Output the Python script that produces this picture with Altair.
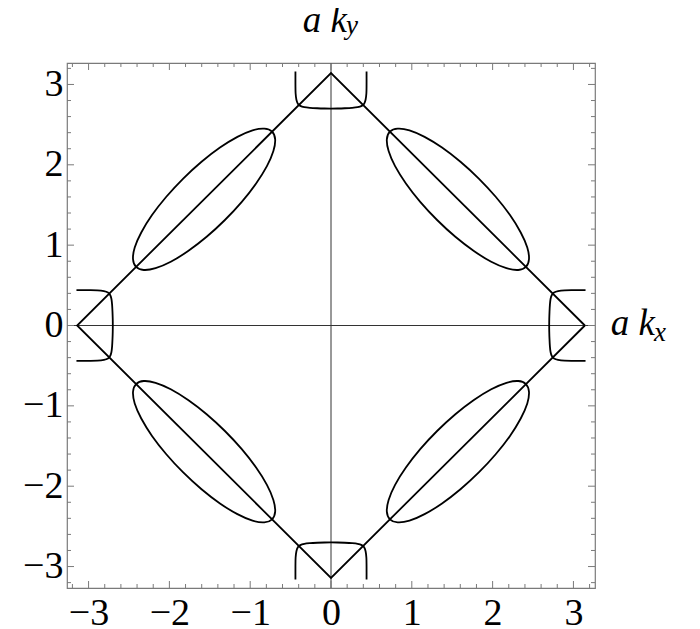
import altair as alt
import pandas as pd

FONT = "Liberation Serif"
FRAME = "#7a7a7a"

DOMAIN_X = [-3.267, 3.267]
DOMAIN_Y = [-3.267, 3.267]

MAJOR_TICKS = [-3, -2, -1, 0, 1, 2, 3]
MINOR_TICKS = [-3.2, -2.8, -2.6, -2.4, -2.2, -1.8, -1.6, -1.4, -1.2, -0.8, -0.6, -0.4, -0.2,
               0.2, 0.4, 0.6, 0.8, 1.2, 1.4, 1.6, 1.8, 2.2, 2.4, 2.6, 2.8, 3.2]

# diamond |x|+|y| = pi
DIAMOND_X = [3.1416, 0.0, -3.1416, 0.0, 3.1416]
DIAMOND_Y = [0.0, 3.1416, 0.0, -3.1416, 0.0]

# lenses (closed curves)
LENS_UR_X = [2.412, 2.450, 2.429, 2.348, 2.215, 2.038, 1.829, 1.602, 1.374, 1.158, 0.971, 0.825,
             0.729, 0.691, 0.713, 0.793, 0.927, 1.104, 1.313, 1.539, 1.768, 1.983, 2.171, 2.317]
LENS_UR_Y = [0.729, 0.825, 0.971, 1.158, 1.374, 1.602, 1.829, 2.038, 2.215, 2.348, 2.429, 2.450,
             2.412, 2.317, 2.171, 1.983, 1.768, 1.539, 1.313, 1.104, 0.927, 0.793, 0.713, 0.691]
LENS_UL_X = [-2.412, -2.450, -2.429, -2.348, -2.215, -2.038, -1.829, -1.602, -1.374, -1.158, -0.971, -0.825,
             -0.729, -0.691, -0.713, -0.793, -0.927, -1.104, -1.313, -1.539, -1.768, -1.983, -2.171, -2.317]
LENS_UL_Y = [0.729, 0.825, 0.971, 1.158, 1.374, 1.602, 1.829, 2.038, 2.215, 2.348, 2.429, 2.450,
             2.412, 2.317, 2.171, 1.983, 1.768, 1.539, 1.313, 1.104, 0.927, 0.793, 0.713, 0.691]
LENS_LL_X = [-2.412, -2.450, -2.429, -2.348, -2.215, -2.038, -1.829, -1.602, -1.374, -1.158, -0.971, -0.825,
             -0.729, -0.691, -0.713, -0.793, -0.927, -1.104, -1.313, -1.539, -1.768, -1.983, -2.171, -2.317]
LENS_LL_Y = [-0.729, -0.825, -0.971, -1.158, -1.374, -1.602, -1.829, -2.038, -2.215, -2.348, -2.429, -2.450,
             -2.412, -2.317, -2.171, -1.983, -1.768, -1.539, -1.313, -1.104, -0.927, -0.793, -0.713, -0.691]
LENS_LR_X = [2.412, 2.450, 2.429, 2.348, 2.215, 2.038, 1.829, 1.602, 1.374, 1.158, 0.971, 0.825,
             0.729, 0.691, 0.713, 0.793, 0.927, 1.104, 1.313, 1.539, 1.768, 1.983, 2.171, 2.317]
LENS_LR_Y = [-0.729, -0.825, -0.971, -1.158, -1.374, -1.602, -1.829, -2.038, -2.215, -2.348, -2.429, -2.450,
             -2.412, -2.317, -2.171, -1.983, -1.768, -1.539, -1.313, -1.104, -0.927, -0.793, -0.713, -0.691]

# brackets near the diamond corners (open curves)
BR_R_X = [3.15, 3.00, 2.89, 2.81, 2.76, 2.733, 2.717, 2.709, 2.704, 2.701, 2.700,
          2.701, 2.704, 2.709, 2.717, 2.733, 2.76, 2.81, 2.89, 3.00, 3.15]
BR_R_Y = [0.44, 0.44, 0.438, 0.428, 0.41, 0.38, 0.33, 0.26, 0.17, 0.08, 0.0,
          -0.08, -0.17, -0.26, -0.33, -0.38, -0.41, -0.428, -0.438, -0.44, -0.44]
BR_L_X = [-3.15, -3.00, -2.89, -2.81, -2.76, -2.733, -2.717, -2.709, -2.704, -2.701, -2.700,
          -2.701, -2.704, -2.709, -2.717, -2.733, -2.76, -2.81, -2.89, -3.00, -3.15]
BR_L_Y = [0.44, 0.44, 0.438, 0.428, 0.41, 0.38, 0.33, 0.26, 0.17, 0.08, 0.0,
          -0.08, -0.17, -0.26, -0.33, -0.38, -0.41, -0.428, -0.438, -0.44, -0.44]
BR_T_X = [0.44, 0.44, 0.438, 0.428, 0.41, 0.38, 0.33, 0.26, 0.17, 0.08, 0.0,
          -0.08, -0.17, -0.26, -0.33, -0.38, -0.41, -0.428, -0.438, -0.44, -0.44]
BR_T_Y = [3.16, 3.00, 2.89, 2.81, 2.76, 2.733, 2.717, 2.709, 2.704, 2.701, 2.700,
          2.701, 2.704, 2.709, 2.717, 2.733, 2.76, 2.81, 2.89, 3.00, 3.16]
BR_B_X = [0.44, 0.44, 0.438, 0.428, 0.41, 0.38, 0.33, 0.26, 0.17, 0.08, 0.0,
          -0.08, -0.17, -0.26, -0.33, -0.38, -0.41, -0.428, -0.438, -0.44, -0.44]
BR_B_Y = [-3.16, -3.00, -2.89, -2.81, -2.76, -2.733, -2.717, -2.709, -2.704, -2.701, -2.700,
          -2.701, -2.704, -2.709, -2.717, -2.733, -2.76, -2.81, -2.89, -3.00, -3.16]

W, H = 528, 525


def curve_frame(named):
    rows = []
    for name, xs_, ys_ in named:
        for i, (a, b) in enumerate(zip(xs_, ys_)):
            rows.append({"curve": name, "i": i, "x": a, "y": b})
    return pd.DataFrame(rows)


diamond_df = curve_frame([("diamond", DIAMOND_X, DIAMOND_Y)])
lens_df = curve_frame([("ur", LENS_UR_X, LENS_UR_Y), ("ul", LENS_UL_X, LENS_UL_Y),
                       ("ll", LENS_LL_X, LENS_LL_Y), ("lr", LENS_LR_X, LENS_LR_Y)])
bracket_df = curve_frame([("r", BR_R_X, BR_R_Y), ("l", BR_L_X, BR_L_Y),
                          ("t", BR_T_X, BR_T_Y), ("b", BR_B_X, BR_B_Y)])
major_df = pd.DataFrame({"v": MAJOR_TICKS})
minor_df = pd.DataFrame({"v": MINOR_TICKS})
zero_df = pd.DataFrame({"v": [0.0]})

xs = alt.Scale(domain=DOMAIN_X, nice=False, zero=False)
ys = alt.Scale(domain=DOMAIN_Y, nice=False, zero=False)


def xaxis():
    return alt.Axis(values=MAJOR_TICKS, format="d", labelFont=FONT, labelFontSize=38,
                    labelColor="black", labelPadding=6, labelFlush=False, labelOverlap=False,
                    ticks=False, tickSize=0, domain=False, grid=False, title="")


def yaxis():
    return alt.Axis(values=MAJOR_TICKS, format="d", labelFont=FONT, labelFontSize=38,
                    labelColor="black", labelPadding=4, labelFlush=False, labelOverlap=False,
                    ticks=False, tickSize=0, domain=False, grid=False, title="")


def X(field):
    return alt.X(field, scale=xs, axis=xaxis(), title="")


def Y(field):
    return alt.Y(field, scale=ys, axis=yaxis(), title="")


x_zero = alt.Chart(zero_df).mark_rule(color="#333333", strokeWidth=1).encode(x=X("v:Q"))
y_zero = alt.Chart(zero_df).mark_rule(color="#333333", strokeWidth=1).encode(y=Y("v:Q"))

diamond = alt.Chart(diamond_df).mark_line(color="black", strokeWidth=1.8).encode(
    x=X("x:Q"), y=Y("y:Q"), order="i:Q")

lenses = alt.Chart(lens_df).mark_line(color="black", strokeWidth=1.8,
                                      interpolate="cardinal-closed").encode(
    x=X("x:Q"), y=Y("y:Q"), detail="curve:N", order="i:Q")

brackets = alt.Chart(bracket_df).mark_line(color="black", strokeWidth=1.8,
                                           interpolate="cardinal").encode(
    x=X("x:Q"), y=Y("y:Q"), detail="curve:N", order="i:Q")


def xticks(df, length):
    bottom = alt.Chart(df).mark_rule(color=FRAME, strokeWidth=1).encode(
        x=X("v:Q"), y=alt.value(H), y2=alt.value(H - length))
    top = alt.Chart(df).mark_rule(color=FRAME, strokeWidth=1).encode(
        x=X("v:Q"), y=alt.value(0), y2=alt.value(length))
    return [bottom, top]


def yticks(df, length):
    left = alt.Chart(df).mark_rule(color=FRAME, strokeWidth=1).encode(
        y=Y("v:Q"), x=alt.value(0), x2=alt.value(length))
    right = alt.Chart(df).mark_rule(color=FRAME, strokeWidth=1).encode(
        y=Y("v:Q"), x=alt.value(W), x2=alt.value(W - length))
    return [left, right]


ticks = xticks(major_df, 7) + xticks(minor_df, 4) + yticks(major_df, 7) + yticks(minor_df, 4)

lab_df = pd.DataFrame({"main": ["a k"], "suby": ["y"], "subx": ["x"]})
top_main = alt.Chart(lab_df).mark_text(font=FONT, fontStyle="italic", fontSize=37,
                                       align="right", baseline="alphabetic", color="black").encode(
    text="main:N", x=alt.value(280), y=alt.value(-31))
top_sub = alt.Chart(lab_df).mark_text(font=FONT, fontStyle="italic", fontSize=27,
                                      align="left", baseline="alphabetic", color="black").encode(
    text="suby:N", x=alt.value(279), y=alt.value(-29))
right_main = alt.Chart(lab_df).mark_text(font=FONT, fontStyle="italic", fontSize=37,
                                         align="right", baseline="alphabetic", color="black").encode(
    text="main:N", x=alt.value(588), y=alt.value(272))
right_sub = alt.Chart(lab_df).mark_text(font=FONT, fontStyle="italic", fontSize=27,
                                        align="left", baseline="alphabetic", color="black").encode(
    text="subx:N", x=alt.value(587), y=alt.value(278))

chart = alt.layer(
    x_zero, y_zero, diamond, lenses, brackets, *ticks,
    top_main, top_sub, right_main, right_sub
).properties(
    width=W, height=H,
    padding={"left": 59, "top": 55, "right": 97, "bottom": 40},
    autosize=alt.AutoSizeParams(type="none"),
    background="white",
).configure_view(stroke=FRAME, strokeWidth=1.2)

chart.save("out.html", embed_options={"renderer": "svg", "actions": False})
